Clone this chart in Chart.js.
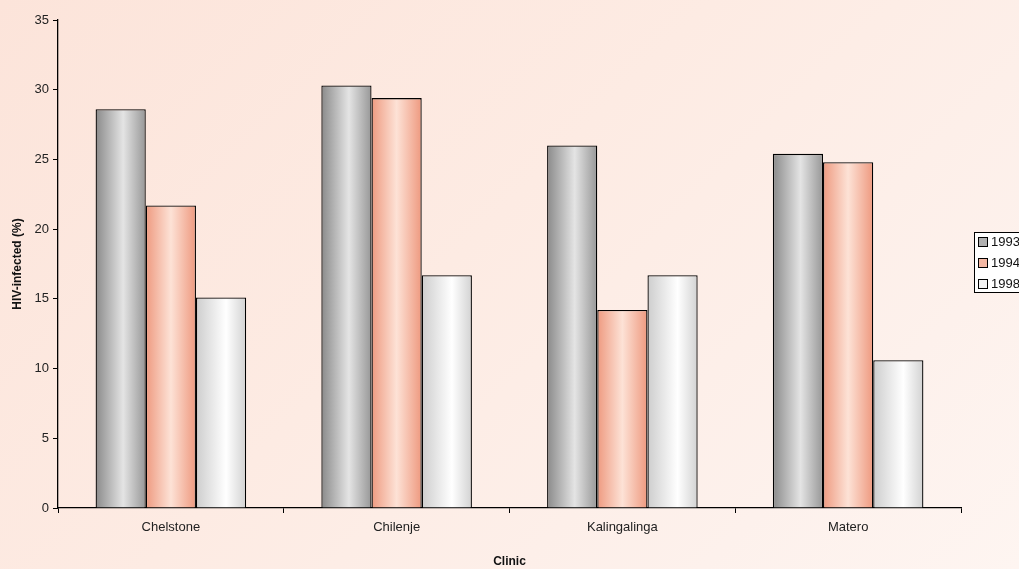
<!DOCTYPE html>
<html>
<head>
<meta charset="utf-8">
<script src="https://cdn.jsdelivr.net/npm/chart.js@4/dist/chart.umd.min.js"></script>
<style>
  html, body { margin: 0; padding: 0; overflow: hidden; }
  body {
    width: 1019px; height: 569px;
    background: linear-gradient(135deg, #fce4da 0%, #fdebe3 45%, #fdf1ec 80%, #fef5f1 100%);
  }
  canvas { display: block; }
</style>
</head>
<body>
<canvas id="myChart" width="1019" height="569"></canvas>
<script>
// dados do gráfico
const clinicas = ["Chelstone", "Chilenje", "Kalingalinga", "Matero"];
const anos = ["1993", "1994", "1998"];
const v1993 = [28.6, 30.3, 26.0, 25.4];
const v1994 = [21.7, 29.4, 14.2, 24.8];
const v1998 = [15.1, 16.7, 16.7, 10.6];
const yTicks = [0, 5, 10, 15, 20, 25, 30, 35];

// degradê horizontal de cada série (esquerda, claro, direita)
const tons = [
  [[0, "#8a8a8a"], [0.55, "#e4e4e4"], [1, "#979797"]],
  [[0, "#ee9a80"], [0.5, "#fde2d6"], [1, "#ee997f"]],
  [[0, "#cdcdcd"], [0.6, "#ffffff"], [1, "#d2d2d2"]],
];
const corLegenda = ["#b0b0b0", "#f4b8a4", "#f2f2f2"];

const fonte = "'Liberation Sans', Arial, sans-serif";

// pinta as barras com degradê conforme a posição calculada pela escala
const degradePlugin = {
  id: "degrade",
  beforeDatasetsDraw(chart) {
    const ctx = chart.ctx;
    chart.data.datasets.forEach((ds, i) => {
      chart.getDatasetMeta(i).data.forEach((bar) => {
        const x0 = bar.x - bar.width / 2;
        const g = ctx.createLinearGradient(x0, 0, x0 + bar.width, 0);
        tons[i].forEach((s) => g.addColorStop(s[0], s[1]));
        bar.options.backgroundColor = g;
      });
    });
  },
};

// legenda com moldura, cortada na borda direita como no original
const legendaPlugin = {
  id: "legendaBox",
  afterDraw(chart) {
    const ctx = chart.ctx;
    const left = chart.chartArea.right + 13;
    const top = 232;
    ctx.save();
    ctx.fillStyle = "#ffffff";
    ctx.strokeStyle = "#000";
    ctx.lineWidth = 1;
    ctx.fillRect(left + 0.5, top + 0.5, 80, 60);
    ctx.strokeRect(left + 0.5, top + 0.5, 80, 60);
    ctx.font = "13px " + fonte;
    ctx.textBaseline = "middle";
    chart.data.datasets.forEach((ds, i) => {
      const y = top + 10 + i * 21;
      ctx.fillStyle = corLegenda[i];
      ctx.fillRect(left + 4.5, y - 4.5, 9, 9);
      ctx.strokeRect(left + 4.5, y - 4.5, 9, 9);
      ctx.fillStyle = "#111";
      ctx.fillText(ds.label, left + 17, y);
    });
    ctx.restore();
  },
};

const dados = [v1993, v1994, v1998];

new Chart(document.getElementById("myChart"), {
  type: "bar",
  data: {
    labels: clinicas,
    datasets: anos.map((a, i) => ({
      label: a,
      data: dados[i],
      // função => cada barra tem suas próprias opções (não compartilhadas)
      backgroundColor: () => corLegenda[i],
      borderColor: "#000",
      borderWidth: 1.3,
      categoryPercentage: 0.667,
      barPercentage: 1,
    })),
  },
  options: {
    responsive: false,
    animation: false,
    devicePixelRatio: 1,
    layout: { padding: { top: 20, right: 58, left: 6, bottom: 0 } },
    plugins: { legend: { display: false }, tooltip: { enabled: false } },
    scales: {
      x: {
        offset: true,
        grid: { offset: true, drawOnChartArea: false, color: "#000", tickLength: 5 },
        border: { color: "#000", width: 1.3 },
        ticks: { color: "#222", font: { family: fonte, size: 13 }, padding: 7, maxRotation: 0 },
        title: {
          display: true, text: "Clinic", color: "#111",
          font: { family: fonte, size: 12, weight: "bold" }, padding: { top: 12, bottom: 0 },
        },
      },
      y: {
        min: 0, max: 35,
        afterBuildTicks(scale) { scale.ticks = yTicks.map((v) => ({ value: v })); },
        grid: { drawOnChartArea: false, color: "#000", tickLength: 5 },
        border: { color: "#000", width: 1.3 },
        ticks: { color: "#222", font: { family: fonte, size: 13 }, padding: 4 },
        title: {
          display: true, text: "HIV-infected (%)", color: "#111",
          font: { family: fonte, size: 12, weight: "bold" }, padding: { top: 4, bottom: 6 },
        },
        afterFit(scale) { scale.width = 52; },
      },
    },
  },
  plugins: [degradePlugin, legendaPlugin],
});
</script>
</body>
</html>
